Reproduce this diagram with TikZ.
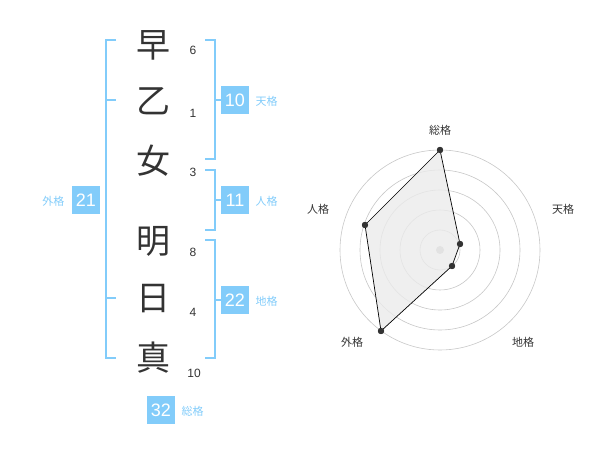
\documentclass[tikz,border=0pt]{standalone}
\usepackage{fontspec}
\setmainfont{Noto Sans CJK JP}
\newfontfamily\numfont{Liberation Sans}
\definecolor{lb}{RGB}{130,204,250}
\definecolor{dk}{RGB}{51,51,51}
\begin{document}
\begin{tikzpicture}[x=1pt,y=-1pt,
  br/.style={draw=lb,line width=1.6pt},
  kanji/.style={font=\fontsize{34}{34}\selectfont,text=dk},
  num/.style={font=\numfont\fontsize{12}{12}\selectfont,text=dk},
  box/.style={fill=lb,text=white,minimum width=28pt,minimum height=28pt,inner sep=0pt,font=\numfont\fontsize{18}{18}\selectfont},
  lab/.style={text=lb,font=\fontsize{11}{11}\selectfont},
  ring/.style={draw=black!22,line width=0.6pt},
  dot/.style={circle,fill=dk,inner sep=0pt,minimum size=6pt},
  ax/.style={font=\fontsize{11}{11}\selectfont,text=dk}]
\useasboundingbox (0,0) rectangle (600,470);
\node[kanji] (k1) at (153,45) {早};
\node[kanji] (k2) at (153,101) {乙};
\node[kanji] (k3) at (153,161) {女};
\node[kanji] (k4) at (153,241) {明};
\node[kanji] (k5) at (153,299) {日};
\node[kanji] (k6) at (153,358) {真};
\node[num] (n1) at (193,50) {6};
\node[num] (n2) at (193,113) {1};
\node[num] (n3) at (193,172) {3};
\node[num] (n4) at (193,252) {8};
\node[num] (n5) at (193,312) {4};
\node[num] (n6) at (194,373) {10};
% right brackets
\draw[br] (205,40) -- (215,40) -- (215,159) -- (205,159);
\draw[br] (215,100) -- (221,100);
\draw[br] (205,170) -- (215,170) -- (215,230) -- (205,230);
\draw[br] (215,200) -- (221,200);
\draw[br] (205,240) -- (215,240) -- (215,358) -- (205,358);
\draw[br] (215,300) -- (221,300);
% left bracket
\draw[br] (116,40) -- (106,40) -- (106,358) -- (116,358);
\draw[br] (106,100) -- (116,100);
\draw[br] (106,298) -- (116,298);
\node[box] (b10) at (235,100) {10};
\node[lab,anchor=west] (l10) at (252,101) {天格};
\node[box] (b11) at (235,200) {11};
\node[lab,anchor=west] (l11) at (252,201) {人格};
\node[box] (b22) at (235,300) {22};
\node[lab,anchor=west] (l22) at (252,301) {地格};
\node[box] (b21) at (86,200) {21};
\node[lab,anchor=east] (l21) at (68,201) {外格};
\node[box] (b32) at (161,410) {32};
\node[lab,anchor=west] (l32) at (178,411) {総格};
% radar
\coordinate (c) at (440,250);
\foreach \r in {20,40,60,80,100} \draw[ring] (c) circle[radius=\r];
\fill[black!25] (c) circle[radius=4];
\node[dot] (pS) at (440,150) {};
\node[dot] (pT) at (460,244) {};
\node[dot] (pC) at (452,266) {};
\node[dot] (pG) at (381,331) {};
\node[dot] (pJ) at (365,225) {};
\fill[black!8,opacity=0.8] (pS.center) -- (pT.center) -- (pC.center) -- (pG.center) -- (pJ.center) -- cycle;
\draw[line width=0.7pt] (pS.center) -- (pT.center) -- (pC.center) -- (pG.center) -- (pJ.center) -- cycle;
\foreach \p in {pS,pT,pC,pG,pJ} \fill[dk] (\p) circle[radius=3.2];
\node[ax] (aS) at (440,130) {総格};
\node[ax] (aT) at (563,209) {天格};
\node[ax] (aC) at (523,342) {地格};
\node[ax] (aG) at (352,342) {外格};
\node[ax] (aJ) at (318,209) {人格};
\end{tikzpicture}
\end{document}
